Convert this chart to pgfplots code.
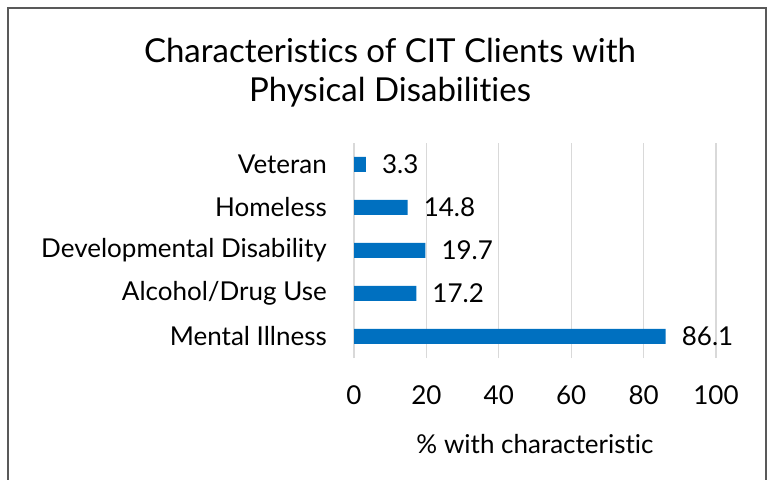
\documentclass[border=0pt]{standalone}
\usepackage{pgfplots}
\pgfplotsset{compat=1.18}
\usepackage{fontspec}
\setmainfont{Lato}[Ligatures={NoCommon,NoRare,NoDiscretionary,NoContextual}]
\definecolor{barblue}{HTML}{0070C0}
\definecolor{gridgray}{HTML}{D9D9D9}
\definecolor{framegray}{HTML}{595959}
\begin{document}
\begin{tikzpicture}
\useasboundingbox (0,0) rectangle (774bp,480bp);
\draw[framegray, line width=1.5bp] (8bp,0bp) -- (8bp,472bp) -- (766bp,472bp) -- (766bp,0bp);
\node[font=\fontsize{33bp}{39bp}\selectfont, anchor=center] at (390bp,430bp) {Characteristics of CIT Clients with};
\node[font=\fontsize{33bp}{39bp}\selectfont, anchor=center] at (390bp,388bp) {Physical Disabilities};
\begin{axis}[
  at={(354bp,122bp)}, anchor=south west,
  scale only axis, width=362bp, height=215bp,
  xbar, bar width=15bp,
  xmin=0, xmax=100, ymin=-0.5, ymax=4.5,
  xtick={0,20,...,100}, ytick={0,1,2,3,4},
  yticklabels={Mental Illness, Alcohol/Drug Use, Developmental Disability, Homeless, Veteran},
  axis line style={draw=none}, major tick length=0pt,
  xmajorgrids, grid style={gridgray, line width=1.2bp},
  /pgf/number format/assume math mode=true,
  tick label style={font=\fontsize{26bp}{31bp}\selectfont},
  yticklabel style={anchor=east, inner sep=0pt, xshift=-27bp},
  xticklabel style={anchor=center, inner sep=0pt, yshift=-37bp},
  xlabel={\% with characteristic},
  xlabel style={font=\fontsize{26bp}{31bp}\selectfont, anchor=center, inner sep=0pt, at={(axis description cs:0.5,0)}, yshift=-86bp},
  nodes near coords,
  every node near coord/.append style={font=\fontsize{26bp}{31bp}\selectfont, anchor=west, inner sep=0pt, xshift=16bp, /pgf/number format/.cd, fixed, precision=1, assume math mode=true},
]
\addplot[fill=barblue, draw=none] coordinates {(86.1,0) (17.2,1) (19.7,2) (14.8,3) (3.3,4)};
\end{axis}
\end{tikzpicture}
\end{document}
